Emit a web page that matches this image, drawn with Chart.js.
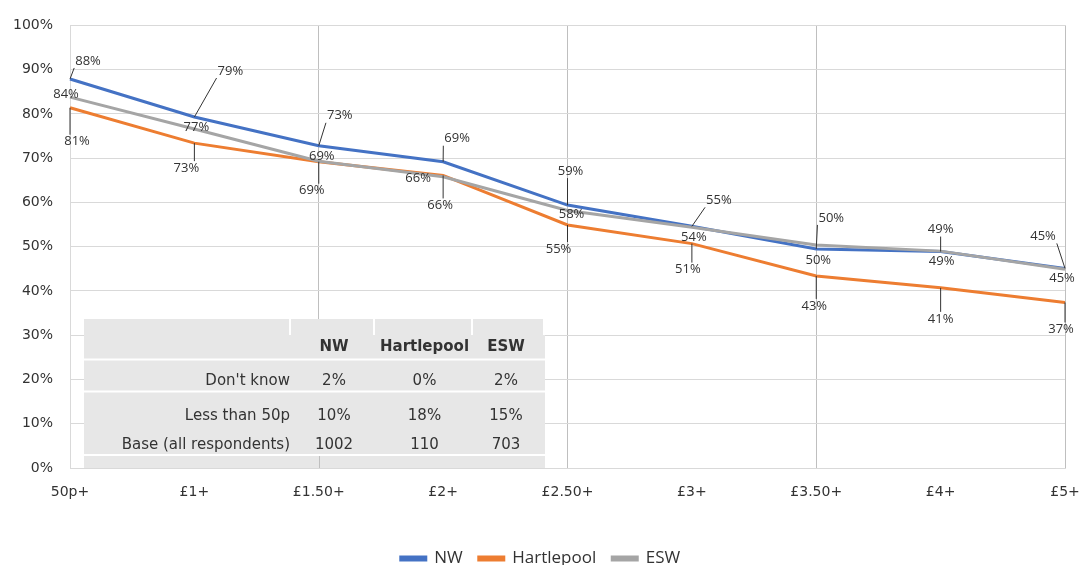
<!DOCTYPE html>
<html>
<head>
<meta charset="utf-8">
<script src="https://cdn.jsdelivr.net/npm/chart.js@4.4.0/dist/chart.umd.min.js"></script>
<style>
  html, body { margin: 0; padding: 0; background: #fff; overflow: hidden; }
  #wrap { position: relative; width: 1081px; height: 577px; }
</style>
</head>
<body>
<div id="wrap"><canvas id="priceChart"></canvas></div>
<script>
// Share willing to pay at each price point (%)
const categories = ["50p+", "£1+", "£1.50+", "£2+", "£2.50+", "£3+", "£3.50+", "£4+", "£5+"];
const seriesNames = ["NW", "Hartlepool", "ESW"];
const nwValues = [87.9, 79.3, 72.8, 69.2, 59.4, 54.6, 49.5, 48.9, 45.1];
const hartlepoolValues = [81.4, 73.4, 69.2, 66.1, 54.9, 50.7, 43.4, 40.7, 37.4];
const eswValues = [83.8, 76.6, 69.3, 65.8, 58.2, 54.4, 50.4, 49.0, 44.9];

// Summary table shown inside the plot
const tableRowLabels = ["Don't know", "Less than 50p", "Base (all respondents)"];
const tableNW = ["2%", "10%", "1002"];
const tableHartlepool = ["0%", "18%", "110"];
const tableESW = ["2%", "15%", "703"];

const textColor = "#333333";
const tickFont = { family: "DejaVu Sans", size: 14 };

// grey table drawn over the grid, under the lines
const tablePlugin = {
  id: "summaryTable",
  beforeDatasetsDraw(chart) {
    const ctx = chart.ctx;
    ctx.save();
    ctx.fillStyle = "#e7e7e7";
    ctx.fillRect(84, 319, 461, 149);
    ctx.fillStyle = "#ffffff";
    [289, 373, 471].forEach((x) => ctx.fillRect(x, 319, 2, 16));
    ctx.fillRect(543, 319, 2, 16);
    [358.5, 390.5, 454].forEach((y) => ctx.fillRect(84, y, 461, 2));

    const cols = [334, 424.5, 506];
    ctx.fillStyle = textColor;
    ctx.textBaseline = "middle";
    ctx.textAlign = "center";
    ctx.font = 'bold 15px "DejaVu Sans"';
    seriesNames.forEach((name, i) => ctx.fillText(name, cols[i], 347));

    ctx.font = '15px "DejaVu Sans"';
    const rowY = [381, 416, 445];
    tableRowLabels.forEach((label, r) => {
      ctx.textAlign = "right";
      ctx.fillText(label, 290, rowY[r]);
      ctx.textAlign = "center";
      ctx.fillText(tableNW[r], cols[0], rowY[r]);
      ctx.fillText(tableHartlepool[r], cols[1], rowY[r]);
      ctx.fillText(tableESW[r], cols[2], rowY[r]);
    });

    // gridline showing through the bottom strip
    const gx = Math.round(chart.scales.x.getPixelForValue(2)) + 0.5;
    ctx.strokeStyle = "#bfbfbf";
    ctx.lineWidth = 1;
    ctx.beginPath();
    ctx.moveTo(gx, 456);
    ctx.lineTo(gx, chart.chartArea.bottom);
    ctx.stroke();
    ctx.restore();
  },
};

// value labels with leader lines
const labelPlugin = {
  id: "pointLabels",
  afterDatasetsDraw(chart) {
    const ctx = chart.ctx;
    ctx.save();
    ctx.font = '13px "Open Sans"';
    ctx.textAlign = "center";
    ctx.textBaseline = "middle";
    chart.data.datasets.forEach((ds, i) => {
      const meta = chart.getDatasetMeta(i);
      meta.data.forEach((pt, j) => {
        const off = ds.labelOffsets[j];
        const cx = pt.x + off[0];
        const cy = pt.y + off[1];
        const text = Math.round(ds.data[j]) + "%";
        const w = ctx.measureText(text).width;
        if (ds.leaderLines) {
          const nx = Math.min(Math.max(pt.x, cx - w / 2 - 1), cx + w / 2 + 1);
          const ny = Math.min(Math.max(pt.y, cy - 7), cy + 7);
          ctx.strokeStyle = textColor;
          ctx.lineWidth = 1;
          ctx.beginPath();
          ctx.moveTo(pt.x, pt.y);
          ctx.lineTo(nx, ny);
          ctx.stroke();
        }
        ctx.fillStyle = textColor;
        ctx.fillText(text, cx, cy);
      });
    });
    ctx.restore();
  },
};

const ctx = document.getElementById("priceChart").getContext("2d");

const priceChart = new Chart(ctx, {
  type: "line",
  data: {
    labels: categories,
    datasets: [
      {
        label: seriesNames[0],
        data: nwValues,
        borderColor: "#4472C4",
        backgroundColor: "#4472C4",
        order: 2,
        leaderLines: true,
        labelOffsets: [[18, -18], [36, -46], [21, -30], [14, -23], [3, -34], [27, -26], [15, -31], [0, -22], [-22, -32]],
      },
      {
        label: seriesNames[1],
        data: hartlepoolValues,
        borderColor: "#ED7D31",
        backgroundColor: "#ED7D31",
        order: 1,
        leaderLines: true,
        labelOffsets: [[7, 34], [-8, 25], [-7, 29], [-3, 30], [-9, 24], [-4, 26], [-2, 30], [0, 31], [-4, 27]],
      },
      {
        label: seriesNames[2],
        data: eswValues,
        borderColor: "#A5A5A5",
        backgroundColor: "#A5A5A5",
        order: 0,
        leaderLines: false,
        labelOffsets: [[-4, -3], [2, -2], [3, -5], [-25, 2], [4, 4], [2, 10], [2, 15], [1, 10], [-3, 9]],
      },
    ],
  },
  options: {
    responsive: true,
    maintainAspectRatio: false,
    animation: false,
    layout: { padding: { top: 22, left: 0, right: 0, bottom: 0 } },
    elements: {
      line: { borderWidth: 3, tension: 0 },
      point: { radius: 0, hoverRadius: 0 },
    },
    scales: {
      x: {
        grid: {
          color: (c) => (c.index % 2 === 0 ? "#bfbfbf" : "rgba(0,0,0,0)"),
          drawTicks: false,
        },
        border: { color: "#d9d9d9" },
        ticks: { padding: 16, font: tickFont, color: textColor, maxRotation: 0, autoSkip: false },
        afterFit: (scale) => {
          scale.height = 66;
          scale.paddingLeft = 0;
          scale.paddingRight = 16;
        },
      },
      y: {
        min: 0,
        max: 100,
        grid: { color: "#d9d9d9", drawTicks: false },
        border: { color: "#d9d9d9" },
        ticks: { stepSize: 10, padding: 17, font: tickFont, color: textColor, callback: (v) => v + "%" },
        afterFit: (scale) => { scale.width = 70; },
      },
    },
    plugins: {
      legend: {
        position: "bottom",
        labels: {
          boxWidth: 25,
          boxHeight: 3,
          padding: 16,
          color: textColor,
          font: { family: "Open Sans", size: 17 },
          sort: (a, b) => a.datasetIndex - b.datasetIndex,
        },
      },
      tooltip: { enabled: false },
    },
  },
  plugins: [tablePlugin, labelPlugin],
});
</script>
</body>
</html>
